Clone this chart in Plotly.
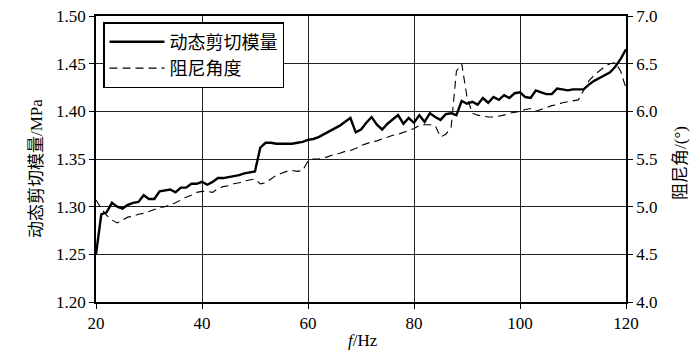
import plotly.graph_objects as go

freq = list(range(20, 121))

modulus = [
    1.250, 1.292, 1.294, 1.304, 1.300, 1.298, 1.302, 1.304, 1.305, 1.312,
    1.308, 1.308, 1.316, 1.317, 1.318, 1.315, 1.320, 1.320, 1.324, 1.324,
    1.326, 1.323, 1.326, 1.330, 1.330, 1.331, 1.332, 1.333, 1.335, 1.336,
    1.337, 1.362, 1.367, 1.367, 1.366, 1.366, 1.366, 1.366, 1.367, 1.368,
    1.370, 1.371, 1.373, 1.376, 1.379, 1.382, 1.385, 1.389, 1.393, 1.378,
    1.381, 1.388, 1.394, 1.386, 1.381, 1.387, 1.392, 1.396, 1.387, 1.393,
    1.388, 1.396, 1.389, 1.398, 1.394, 1.391, 1.397, 1.398, 1.396, 1.411,
    1.408, 1.410, 1.407, 1.414, 1.409, 1.415, 1.412, 1.417, 1.414, 1.419,
    1.420, 1.415, 1.414, 1.422, 1.420, 1.418, 1.418, 1.424, 1.423, 1.422,
    1.423, 1.423, 1.423, 1.428, 1.432, 1.435, 1.438, 1.441, 1.447, 1.455,
    1.465,
]

damping = [
    5.07, 4.98, 4.91, 4.86, 4.83, 4.86, 4.89, 4.90, 4.92, 4.93,
    4.95, 4.97, 4.99, 5.00, 5.02, 5.04, 5.07, 5.10, 5.12, 5.15,
    5.16, 5.16, 5.15, 5.19, 5.21, 5.22, 5.24, 5.25, 5.27, 5.28,
    5.29, 5.24, 5.25, 5.29, 5.33, 5.35, 5.37, 5.38, 5.37, 5.38,
    5.48, 5.50, 5.50, 5.51, 5.53, 5.55, 5.56, 5.58, 5.59, 5.61,
    5.64, 5.66, 5.68, 5.69, 5.71, 5.73, 5.75, 5.76, 5.78, 5.80,
    5.82, 5.85, 5.86, 5.86, 5.85, 5.73, 5.76, 5.83, 6.42, 6.50,
    6.15, 5.98, 5.96, 5.95, 5.94, 5.94, 5.95, 5.96, 5.98, 5.99,
    6.00, 6.02, 6.03, 6.00, 6.02, 6.04, 6.06, 6.07, 6.09, 6.10,
    6.11, 6.12, 6.22, 6.32, 6.38, 6.43, 6.47, 6.50, 6.51, 6.42,
    6.24,
]

name_mod = "动态剪切模量"
name_damp = "阻尼角度"
x_title = "<i>f</i>/Hz"
y_title = "动态剪切模量/MPa"
y2_title = "阻尼角/(°)"

FONT = "Times New Roman, Liberation Serif, Noto Sans CJK SC, serif"

fig = go.Figure()
fig.add_trace(go.Scatter(x=freq, y=modulus, name=name_mod, mode="lines",
                         line=dict(color="black", width=2.4)))
fig.add_trace(go.Scatter(x=freq, y=damping, name=name_damp, mode="lines", yaxis="y2",
                         line=dict(color="black", width=1.1, dash="8px,5px")))

# page offset of the figure inside the browser window
OX, OY = 8, 8
W, H = 700, 359
L, R, T, B = 96 - OX, 74 + OX, 16 - OY, 57 + OY
pw, ph = W - L - R, H - T - B

def px2x(p):
    return (p - OX - L) / pw

def py2y(p):
    return (OY + T + ph - p) / ph

grid = "#222222"
fig.update_layout(
    width=W, height=H,
    margin=dict(l=L, r=R, t=T, b=B, autoexpand=False),
    paper_bgcolor="white", plot_bgcolor="white",
    font=dict(family=FONT, size=17, color="black"),
    showlegend=True,
    legend=dict(x=px2x(103), y=py2y(22), xanchor="left", yanchor="top",
                bgcolor="white", bordercolor="black", borderwidth=1.5,
                font=dict(family=FONT, size=18), tracegroupgap=0, itemwidth=55),
    xaxis=dict(range=[20, 120], dtick=20, tick0=20, showgrid=True, gridcolor=grid, gridwidth=1.3,
               showline=True, linecolor="black", linewidth=1.5, mirror=True, automargin=False,
               ticks="outside", ticklen=5, tickcolor="black", zeroline=False,
               ticklabeloverflow="allow", tickfont=dict(family=FONT, size=17)),
    yaxis=dict(range=[1.20, 1.50], dtick=0.05, tick0=1.20, tickformat=".2f",
               showgrid=True, gridcolor=grid, gridwidth=1.3, automargin=False,
               showline=True, linecolor="black", linewidth=1.5,
               ticks="outside", ticklen=5, tickcolor="black", zeroline=False,
               ticklabeloverflow="allow", tickfont=dict(family=FONT, size=17)),
    yaxis2=dict(range=[4.0, 7.0], dtick=0.5, tick0=4.0, tickformat=".1f", overlaying="y", side="right",
                showgrid=False, showline=True, linecolor="black", linewidth=1.5, automargin=False,
                ticks="outside", ticklen=5, tickcolor="black", zeroline=False,
                ticklabeloverflow="allow", tickfont=dict(family=FONT, size=17)),
    annotations=[
        dict(text=y_title, xref="paper", yref="paper", x=px2x(36), y=py2y(169),
             textangle=-90, showarrow=False, font=dict(family=FONT, size=17),
             xanchor="center", yanchor="middle"),
        dict(text=y2_title, xref="paper", yref="paper", x=px2x(680), y=py2y(163),
             textangle=-90, showarrow=False, font=dict(family=FONT, size=17),
             xanchor="center", yanchor="middle"),
        dict(text=x_title, xref="paper", yref="paper", x=px2x(363), y=py2y(341),
             showarrow=False, font=dict(family=FONT, size=17),
             xanchor="center", yanchor="middle"),
    ],
)

fig.write_html("out.html")
